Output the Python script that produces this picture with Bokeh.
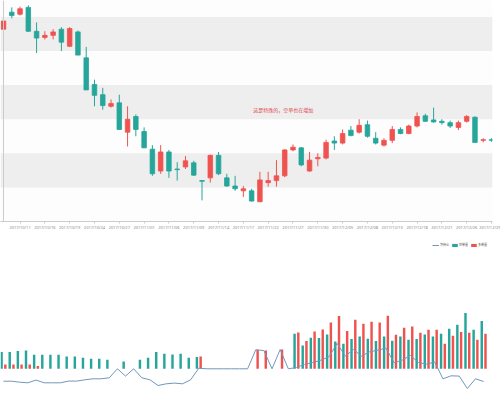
import numpy as np
from bokeh.plotting import figure
from bokeh.models import Range1d, FixedTicker, Span, Label, Legend, LegendItem, ColumnDataSource
from bokeh.transform import dodge
from bokeh.layouts import column
from bokeh.embed import file_html
from bokeh.resources import INLINE

dates = ["2017/10/09", "2017/10/10", "2017/10/11", "2017/10/12", "2017/10/13", "2017/10/16",
         "2017/10/17", "2017/10/18", "2017/10/19", "2017/10/20", "2017/10/23", "2017/10/24",
         "2017/10/25", "2017/10/26", "2017/10/27", "2017/10/30", "2017/10/31", "2017/11/01",
         "2017/11/02", "2017/11/03", "2017/11/06", "2017/11/07", "2017/11/08", "2017/11/09",
         "2017/11/10", "2017/11/13", "2017/11/14", "2017/11/15", "2017/11/16", "2017/11/17",
         "2017/11/20", "2017/11/21", "2017/11/22", "2017/11/23", "2017/11/24", "2017/11/27",
         "2017/11/28", "2017/11/29", "2017/11/30", "2017/12/01", "2017/12/04", "2017/12/05",
         "2017/12/06", "2017/12/07", "2017/12/08", "2017/12/11", "2017/12/12", "2017/12/13",
         "2017/12/14", "2017/12/15", "2017/12/18", "2017/12/19", "2017/12/20", "2017/12/21",
         "2017/12/22", "2017/12/25", "2017/12/26", "2017/12/27", "2017/12/28", "2017/12/29"]
tick_idx = [2, 5, 8, 11, 14, 17, 20, 23, 26, 29, 32, 35, 38, 41, 44, 47, 50, 53, 56, 59]

opens = [3582, 3607, 3604, 3614, 3579, 3570, 3573, 3582, 3557, 3578,
         3540, 3501, 3486, 3469, 3474, 3431, 3454, 3432, 3406, 3374,
         3402, 3377, 3380, 3386, 3360, 3364, 3397, 3364, 3352, 3345,
         3345, 3329, 3357, 3360, 3367, 3405, 3408, 3374, 3392, 3393,
         3418, 3415, 3434, 3431, 3442, 3422, 3412, 3419, 3435, 3429,
         3440, 3455, 3449, 3447, 3445, 3438, 3447, 3453, 3419, 3420]
closes = [3594, 3602, 3612, 3579, 3569, 3573, 3578, 3563, 3583, 3544,
          3493, 3485, 3470, 3473, 3435, 3450, 3435, 3408, 3370, 3402,
          3374, 3376, 3389, 3368, 3359, 3397, 3370, 3352, 3348, 3348,
          3330, 3361, 3360, 3367, 3405, 3409, 3383, 3390, 3394, 3416,
          3415, 3429, 3426, 3441, 3425, 3415, 3419, 3435, 3429, 3440,
          3454, 3447, 3446, 3445, 3440, 3445, 3454, 3416, 3420, 3419]
lows = [3578, 3598, 3602, 3578, 3547, 3567, 3567, 3550, 3556, 3544,
        3493, 3469, 3464, 3467, 3435, 3410, 3425, 3408, 3367, 3370,
        3364, 3360, 3377, 3367, 3331, 3357, 3368, 3351, 3345, 3336,
        3329, 3329, 3351, 3351, 3365, 3403, 3381, 3373, 3381, 3391,
        3405, 3413, 3425, 3429, 3423, 3413, 3410, 3415, 3428, 3428,
        3438, 3446, 3445, 3442, 3437, 3434, 3445, 3416, 3416, 3417]
highs = [3605, 3614, 3615, 3617, 3592, 3579, 3582, 3585, 3585, 3580,
         3556, 3508, 3496, 3479, 3486, 3469, 3457, 3438, 3412, 3412,
         3405, 3387, 3396, 3389, 3360, 3398, 3402, 3370, 3367, 3352,
         3348, 3373, 3373, 3390, 3406, 3413, 3409, 3402, 3400, 3420,
         3425, 3435, 3440, 3450, 3448, 3431, 3422, 3440, 3438, 3442,
         3460, 3458, 3467, 3450, 3448, 3448, 3456, 3454, 3422, 3422]

short_vol = [16700, 16700, 17700, 18300, 14000, 14000, 14000, 14000, 12300, 12300,
             11000, 10000, 10000, 9000, 0, 7300, 0, 9000, 11000, 16700,
             15000, 14300, 15000, 11000, 11700, 0, 0, 0, 0, 0,
             0, 0, 0, 0, 0, 0, 35000, 23300, 31000, 30700,
             34300, 27300, 25000, 29700, 32300, 30000, 27700, 32300, 28000, 32300,
             29000, 29700, 34300, 32300, 35000, 40000, 44000, 55700, 39000, 47700]
long_vol = [4300, 4300, 4300, 4300, 2700, 0, 0, 0, 0, 0,
            0, 0, 0, 0, 0, 0, 0, 0, 0, 0,
            0, 0, 0, 0, 12300, 0, 0, 0, 0, 0,
            0, 19000, 18300, 0, 19300, 0, 36300, 27700, 37300, 39300,
            46300, 52700, 37700, 49000, 45000, 47000, 46300, 53000, 34000, 41000,
            42300, 36000, 39000, 39000, 25000, 33000, 36700, 36000, 29000, 35000]
net_pos = [-12400, -12400, -13400, -14000, -11300, -14000, -14000, -14000, -12300, -12300,
           -11000, -10000, -10000, -9000, 0, -7300, 0, -9000, -11000, -16700,
           -15000, -14300, -15000, -11000, 600, 0, 0, 0, 0, 0,
           0, 19000, 18300, 0, 19300, 0, 1300, 4400, 6300, 8600,
           12000, 25400, 12700, 19300, 12700, 17000, 18600, 20700, 6000, 8700,
           13300, 6300, 4700, 6700, -10000, -7000, -7300, -19700, -10000, -12700]

note_text = "这是特殊的，空单也在增加"
legend_labels = ["净持仓", "空单量", "多单量"]

UP = "#ef5350"
DOWN = "#26a69a"
LINE = "#7396bd"
CJK = "Noto Sans CJK SC"

idx = np.arange(len(dates))
o = np.array(opens, dtype=float)
c = np.array(closes, dtype=float)
src = ColumnDataSource(dict(
    x=idx, low=lows, high=highs,
    top=np.maximum(o, c), bottom=np.minimum(o, c),
    color=[UP if cc >= oo else DOWN for oo, cc in zip(o, c)],
))

p1 = figure(width=500, height=232, x_range=Range1d(-0.363, 59.12),
            y_range=Range1d(3300, 3624.1), y_axis_location=None,
            min_border_left=0, min_border_right=8, min_border_top=0, min_border_bottom=9,
            output_backend="svg", toolbar_location=None, tools="")
p1.outline_line_color = None
p1.background_fill_color = "#fdfdfd"
p1.xgrid.visible = False
p1.ygrid.ticker = FixedTicker(ticks=[3300, 3350, 3400, 3450, 3500, 3550, 3600])
p1.ygrid.grid_line_color = None
p1.ygrid.band_fill_color = "#eeeeee"
p1.ygrid.band_fill_alpha = 1.0

p1.segment(x0="x", y0="low", x1="x", y1="high", color="color", line_width=1, source=src)
p1.vbar(x="x", width=0.55, top="top", bottom="bottom", fill_color="color",
        line_color="color", line_width=0.8, source=src)
p1.add_layout(Span(location=0, dimension="height", line_color="#cccccc", line_width=1))

ax = p1.xaxis[0]
ax.ticker = FixedTicker(ticks=tick_idx)
ax.major_label_overrides = {i: dates[i] for i in tick_idx}
ax.major_label_text_font_size = "4px"
ax.major_label_text_color = "#888888"
ax.major_label_text_font = "Noto Sans"
ax.major_label_standoff = 1
ax.major_tick_out = 2
ax.major_tick_in = 0
ax.minor_tick_line_color = None
ax.axis_line_color = "#cccccc"
ax.major_tick_line_color = "#cccccc"

p1.add_layout(Label(x=30.2, y=3464, text=note_text, text_font=CJK, text_font_size="5px",
                    text_color="#e0474c", text_baseline="middle"))

vsrc = ColumnDataSource(dict(x=idx, short=short_vol, long=long_vol, net=net_pos))
p2 = figure(width=500, height=165, x_range=Range1d(-0.363, 60.09),
            y_range=Range1d(-28700, 130300), x_axis_location=None, y_axis_location=None,
            min_border_left=0, min_border_right=0, min_border_top=6, min_border_bottom=0,
            output_backend="svg", toolbar_location=None, tools="")
p2.outline_line_color = None
p2.grid.visible = False
r_short = p2.vbar(x=dodge("x", -0.23, range=p2.x_range), top="short", width=0.3,
                  fill_color=DOWN, line_color=None, source=vsrc)
r_long = p2.vbar(x=dodge("x", 0.23, range=p2.x_range), top="long", width=0.3,
                 fill_color=UP, line_color=None, source=vsrc)
r_net = p2.line(x="x", y="net", line_color=LINE, line_width=1, source=vsrc)

legend = Legend(items=[LegendItem(label=legend_labels[0], renderers=[r_net]),
                       LegendItem(label=legend_labels[1], renderers=[r_short]),
                       LegendItem(label=legend_labels[2], renderers=[r_long])],
                location="top_right", orientation="horizontal",
                label_text_font=CJK, label_text_font_size="3px", label_text_color="#555555",
                glyph_width=7, glyph_height=4, label_height=4, label_width=8, label_standoff=1,
                spacing=2, padding=0, margin=5, border_line_color=None,
                background_fill_alpha=0)
p2.add_layout(legend)

layout = column(p1, p2, spacing=0)
open("out.html", "w").write(file_html(layout, INLINE))
